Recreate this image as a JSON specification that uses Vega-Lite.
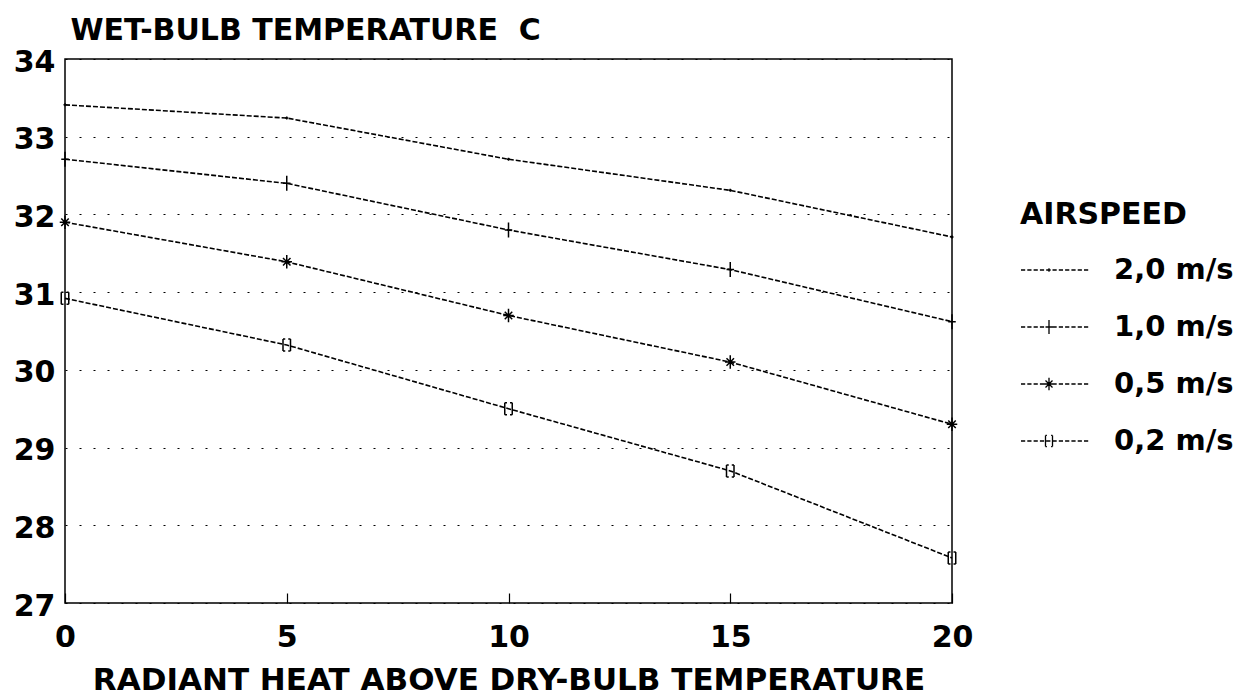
{
  "$schema": "https://vega.github.io/schema/vega-lite/v6.json",
  "width": 887,
  "height": 544,
  "autosize": {"type": "none"},
  "padding": {"left": 65, "top": 59, "right": 307, "bottom": 93},
  "background": "white",
  "config": {
    "font": "DejaVu Sans",
    "view": {"stroke": "black", "strokeWidth": 1.5}
  },
  "data": {
    "values": [
      {"airspeed": "2,0 m/s", "radiant": 0, "wetbulb": 33.41},
      {"airspeed": "2,0 m/s", "radiant": 5, "wetbulb": 33.24},
      {"airspeed": "2,0 m/s", "radiant": 10, "wetbulb": 32.71},
      {"airspeed": "2,0 m/s", "radiant": 15, "wetbulb": 32.31},
      {"airspeed": "2,0 m/s", "radiant": 20, "wetbulb": 31.71},
      {"airspeed": "1,0 m/s", "radiant": 0, "wetbulb": 32.71},
      {"airspeed": "1,0 m/s", "radiant": 5, "wetbulb": 32.40},
      {"airspeed": "1,0 m/s", "radiant": 10, "wetbulb": 31.80},
      {"airspeed": "1,0 m/s", "radiant": 15, "wetbulb": 31.29},
      {"airspeed": "1,0 m/s", "radiant": 20, "wetbulb": 30.62},
      {"airspeed": "0,5 m/s", "radiant": 0, "wetbulb": 31.90},
      {"airspeed": "0,5 m/s", "radiant": 5, "wetbulb": 31.39},
      {"airspeed": "0,5 m/s", "radiant": 10, "wetbulb": 30.70},
      {"airspeed": "0,5 m/s", "radiant": 15, "wetbulb": 30.10},
      {"airspeed": "0,5 m/s", "radiant": 20, "wetbulb": 29.30},
      {"airspeed": "0,2 m/s", "radiant": 0, "wetbulb": 30.92},
      {"airspeed": "0,2 m/s", "radiant": 5, "wetbulb": 30.32},
      {"airspeed": "0,2 m/s", "radiant": 10, "wetbulb": 29.50},
      {"airspeed": "0,2 m/s", "radiant": 15, "wetbulb": 28.70},
      {"airspeed": "0,2 m/s", "radiant": 20, "wetbulb": 27.58}
    ]
  },
  "encoding": {
    "x": {
      "field": "radiant",
      "type": "quantitative",
      "scale": {"domain": [0, 20], "nice": false},
      "axis": {
        "title": "RADIANT HEAT ABOVE DRY-BULB TEMPERATURE",
        "values": [0, 5, 10, 15, 20],
        "domain": false,
        "grid": false,
        "tickSize": -10,
        "tickColor": "black",
        "tickWidth": 1.2,
        "labelFontSize": 30,
        "labelFontWeight": "bold",
        "labelColor": "black",
        "labelBaseline": "middle",
        "labelPadding": 44,
        "labelFlush": false,
        "titleFontSize": 31,
        "titleFontWeight": "bold",
        "titleColor": "black",
        "titleBaseline": "middle",
        "titleY": 77
      }
    },
    "y": {
      "field": "wetbulb",
      "type": "quantitative",
      "scale": {"domain": [27, 34], "nice": false, "zero": false},
      "axis": {
        "title": "WET-BULB TEMPERATURE\u00a0\u00a0C",
        "values": [27, 28, 29, 30, 31, 32, 33, 34],
        "domain": false,
        "ticks": false,
        "grid": true,
        "gridColor": "black",
        "gridDash": [2, 12],
        "gridWidth": 1,
        "labelFontSize": 30,
        "labelFontWeight": "bold",
        "labelColor": "black",
        "labelPadding": 10,
        "labelOffset": 3,
        "titleAngle": 0,
        "titleAlign": "left",
        "titleBaseline": "middle",
        "titleX": 5,
        "titleY": -29,
        "titleFontSize": 30,
        "titleFontWeight": "bold",
        "titleColor": "black"
      }
    }
  },
  "layer": [
    {
      "mark": {"type": "line", "stroke": "black", "strokeWidth": 1.6, "strokeDash": [5, 2]},
      "encoding": {"detail": {"field": "airspeed", "type": "nominal"}}
    },
    {
      "mark": {"type": "point", "filled": false, "stroke": "black", "strokeWidth": 1.5, "size": 225, "opacity": 1},
      "encoding": {
        "shape": {
          "field": "airspeed",
          "type": "nominal",
          "scale": {
            "domain": ["2,0 m/s", "1,0 m/s", "0,5 m/s", "0,2 m/s"],
            "range": [
              "M-0.2,0L0.2,0M0,-0.2L0,0.2",
              "M0,-1L0,1M-0.5,0L0.5,0",
              "M0,-0.9L0,0.9M-0.7,0L0.7,0M-0.5,-0.5L0.5,0.5M-0.5,0.5L0.5,-0.5",
              "M-0.5,-0.8L-0.5,0.8M0.5,-0.8L0.5,0.8M-0.5,-0.8L-0.2,-0.8M0.2,-0.8L0.5,-0.8M-0.5,0.8L-0.2,0.8M0.2,0.8L0.5,0.8"
            ]
          },
          "legend": null
        }
      }
    },
    {
      "mark": {"type": "point", "filled": false, "stroke": "black", "strokeWidth": 1.3, "size": 784, "opacity": 0},
      "encoding": {
        "shape": {
          "field": "airspeed",
          "type": "nominal",
          "scale": {
            "domain": ["2,0 m/s", "1,0 m/s", "0,5 m/s", "0,2 m/s"],
            "range": [
              "M-1,0L-0.7,0M-0.55,0L-0.25,0M-0.1,0L0.2,0M0.35,0L0.65,0M0.8,0L1.1,0M1.25,0L1.55,0M1.7,0L2,0M2.15,0L2.45,0M2.6,0L2.9,0M3.05,0L3.35,0M3.5,0L3.8,0M0.88,0L1.12,0M1,-0.12L1,0.12",
              "M-1,0L-0.7,0M-0.55,0L-0.25,0M-0.1,0L0.2,0M0.35,0L0.65,0M0.8,0L1.1,0M1.25,0L1.55,0M1.7,0L2,0M2.15,0L2.45,0M2.6,0L2.9,0M3.05,0L3.35,0M3.5,0L3.8,0M1,-0.5L1,0.5M0.75,0L1.25,0",
              "M-1,0L-0.7,0M-0.55,0L-0.25,0M-0.1,0L0.2,0M0.35,0L0.65,0M0.8,0L1.1,0M1.25,0L1.55,0M1.7,0L2,0M2.15,0L2.45,0M2.6,0L2.9,0M3.05,0L3.35,0M3.5,0L3.8,0M1,-0.45L1,0.45M0.65,0L1.35,0M0.75,-0.25L1.25,0.25M0.75,0.25L1.25,-0.25",
              "M-1,0L-0.7,0M-0.55,0L-0.25,0M-0.1,0L0.2,0M0.35,0L0.65,0M0.8,0L1.1,0M1.25,0L1.55,0M1.7,0L2,0M2.15,0L2.45,0M2.6,0L2.9,0M3.05,0L3.35,0M3.5,0L3.8,0M0.75,-0.4L0.75,0.4M1.25,-0.4L1.25,0.4M0.75,-0.4L0.85,-0.4M1.15,-0.4L1.25,-0.4M0.75,0.4L0.85,0.4M1.15,0.4L1.25,0.4"
            ]
          },
          "legend": {
            "title": "AIRSPEED",
            "orient": "none",
            "legendX": 955,
            "legendY": 141,
            "padding": 0,
            "titleFontSize": 30,
            "titleFontWeight": "bold",
            "titleColor": "black",
            "titlePadding": 25,
            "labelFontSize": 29,
            "labelFontWeight": "bold",
            "labelColor": "black",
            "labelOffset": 64,
            "rowPadding": 27,
            "symbolSize": 784,
            "symbolOpacity": 1,
            "symbolStrokeColor": "black",
            "symbolStrokeWidth": 1.3,
            "symbolFillColor": "transparent"
          }
        }
      }
    }
  ],
  "resolve": {"scale": {"shape": "independent"}, "legend": {"shape": "independent"}}
}
